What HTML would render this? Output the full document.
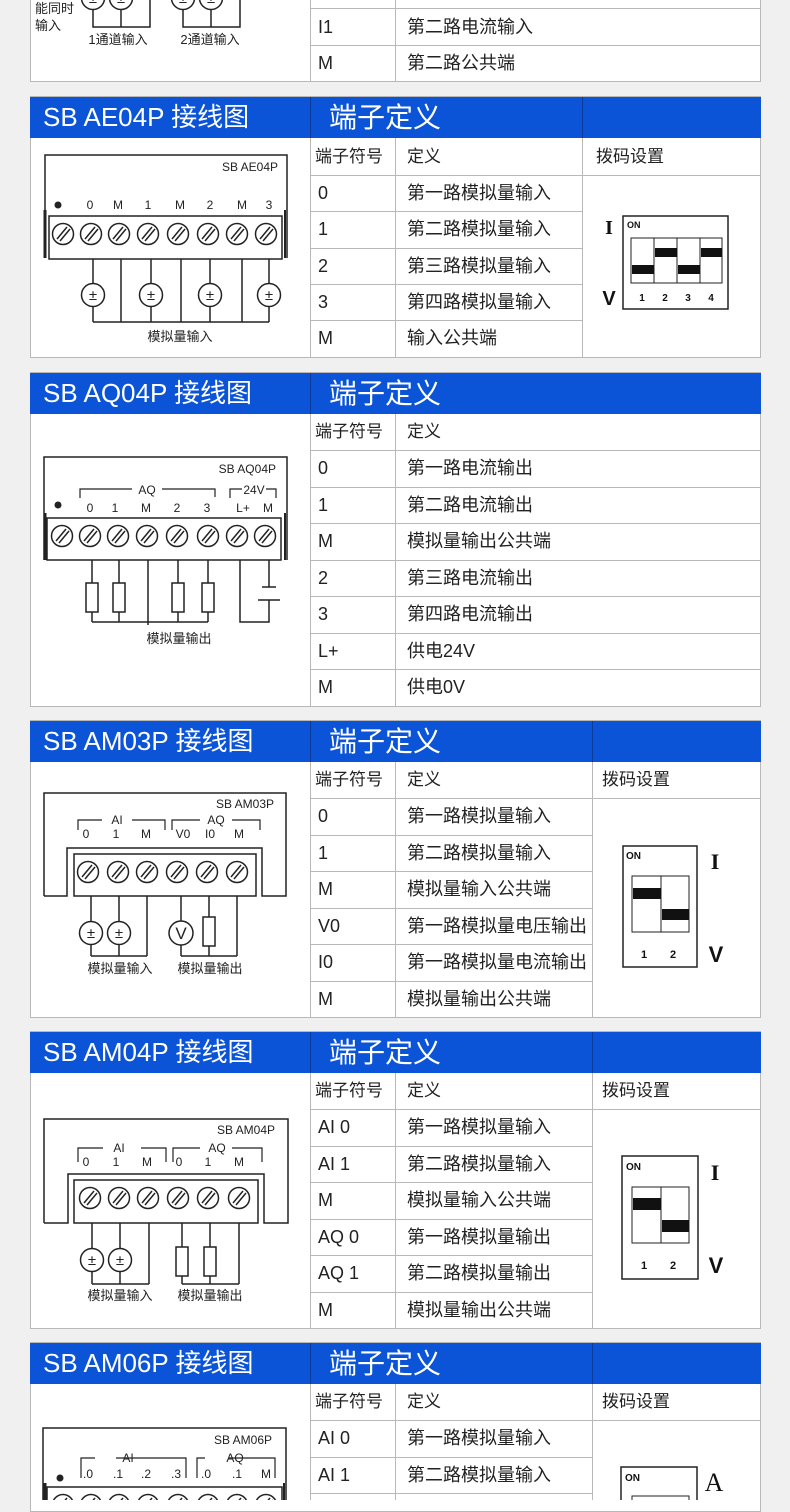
<!DOCTYPE html>
<html><head><meta charset="utf-8"><style>
*{margin:0;padding:0;box-sizing:border-box}
body{width:790px;height:1500px;background:#f0f0f0;position:relative;overflow:hidden;font-family:"Liberation Sans","Noto Sans CJK SC",sans-serif;color:#222}
.p{position:absolute;left:30px;width:731px;background:#fff;border:1px solid #b8b8b8}
.hb{position:absolute;left:30px;width:731px;height:41px;background:#0b54d8}
.ht{position:absolute;color:#fff;font-size:26px;line-height:41px;white-space:nowrap}
.hv{position:absolute;width:1px;height:41px;background:#0a3a9a}
.h{position:absolute;height:1px;background:#b8b8b8}
.v{position:absolute;width:1px;background:#b8b8b8}
.t{position:absolute;font-size:18px;white-space:nowrap;color:#222}
svg{position:absolute;left:0;top:0}
</style></head><body>

<!-- section 0 partial -->
<div class="p" style="top:-2px;height:84px"></div>
<div class="v" style="left:310px;top:0;height:82px"></div>
<div class="v" style="left:395px;top:0;height:82px"></div>
<div class="h" style="left:310px;top:8px;width:450px"></div>
<div class="h" style="left:310px;top:45px;width:450px"></div>
<div class="t" style="left:318px;top:9px;line-height:36px">I1</div>
<div class="t" style="left:407px;top:9px;line-height:36px">第二路电流输入</div>
<div class="t" style="left:318px;top:45px;line-height:37px">M</div>
<div class="t" style="left:407px;top:45px;line-height:37px">第二路公共端</div>

<!-- AE04P -->
<div class="p" style="top:96px;height:262px"></div>
<div class="hb" style="top:97px"></div>
<div class="ht" style="left:43px;top:97px">SB AE04P 接线图</div>
<div class="ht" style="left:329px;top:97px;font-size:28px">端子定义</div>
<div class="hv" style="left:310px;top:97px"></div><div class="hv" style="left:582px;top:97px"></div>
<div class="v" style="left:310px;top:138px;height:219px"></div>
<div class="v" style="left:395px;top:138px;height:219px"></div>
<div class="v" style="left:582px;top:138px;height:219px"></div>
<div class="h" style="left:310px;top:175px;width:450px"></div>
<div class="h" style="left:310px;top:211px;width:272px"></div>
<div class="h" style="left:310px;top:248px;width:272px"></div>
<div class="h" style="left:310px;top:284px;width:272px"></div>
<div class="h" style="left:310px;top:320px;width:272px"></div>
<div class="t" style="left:315px;top:138px;line-height:37px;font-size:17px">端子符号</div>
<div class="t" style="left:407px;top:138px;line-height:37px;font-size:17px">定义</div>
<div class="t" style="left:596px;top:138px;line-height:37px;font-size:17px">拨码设置</div>
<div class="t" style="left:318px;top:175px;line-height:36px">0</div><div class="t" style="left:407px;top:175px;line-height:36px">第一路模拟量输入</div>
<div class="t" style="left:318px;top:211px;line-height:37px">1</div><div class="t" style="left:407px;top:211px;line-height:37px">第二路模拟量输入</div>
<div class="t" style="left:318px;top:248px;line-height:36px">2</div><div class="t" style="left:407px;top:248px;line-height:36px">第三路模拟量输入</div>
<div class="t" style="left:318px;top:284px;line-height:36px">3</div><div class="t" style="left:407px;top:284px;line-height:36px">第四路模拟量输入</div>
<div class="t" style="left:318px;top:320px;line-height:37px">M</div><div class="t" style="left:407px;top:320px;line-height:37px">输入公共端</div>

<!-- AQ04P -->
<div class="p" style="top:372px;height:335px"></div>
<div class="hb" style="top:373px"></div>
<div class="ht" style="left:43px;top:373px">SB AQ04P 接线图</div>
<div class="ht" style="left:329px;top:373px;font-size:28px">端子定义</div>
<div class="hv" style="left:310px;top:373px"></div>
<div class="v" style="left:310px;top:414px;height:292px"></div>
<div class="v" style="left:395px;top:414px;height:292px"></div>
<div class="h" style="left:310px;top:450px;width:450px"></div>
<div class="h" style="left:310px;top:487px;width:450px"></div>
<div class="h" style="left:310px;top:523px;width:450px"></div>
<div class="h" style="left:310px;top:560px;width:450px"></div>
<div class="h" style="left:310px;top:596px;width:450px"></div>
<div class="h" style="left:310px;top:633px;width:450px"></div>
<div class="h" style="left:310px;top:669px;width:450px"></div>
<div class="t" style="left:315px;top:414px;line-height:36px;font-size:17px">端子符号</div>
<div class="t" style="left:407px;top:414px;line-height:36px;font-size:17px">定义</div>
<div class="t" style="left:318px;top:450px;line-height:37px">0</div><div class="t" style="left:407px;top:450px;line-height:37px">第一路电流输出</div>
<div class="t" style="left:318px;top:487px;line-height:36px">1</div><div class="t" style="left:407px;top:487px;line-height:36px">第二路电流输出</div>
<div class="t" style="left:318px;top:523px;line-height:37px">M</div><div class="t" style="left:407px;top:523px;line-height:37px">模拟量输出公共端</div>
<div class="t" style="left:318px;top:560px;line-height:36px">2</div><div class="t" style="left:407px;top:560px;line-height:36px">第三路电流输出</div>
<div class="t" style="left:318px;top:596px;line-height:37px">3</div><div class="t" style="left:407px;top:596px;line-height:37px">第四路电流输出</div>
<div class="t" style="left:318px;top:633px;line-height:36px">L+</div><div class="t" style="left:407px;top:633px;line-height:36px">供电24V</div>
<div class="t" style="left:318px;top:669px;line-height:37px">M</div><div class="t" style="left:407px;top:669px;line-height:37px">供电0V</div>

<!-- AM03P -->
<div class="p" style="top:720px;height:298px"></div>
<div class="hb" style="top:721px"></div>
<div class="ht" style="left:43px;top:721px">SB AM03P 接线图</div>
<div class="ht" style="left:329px;top:721px;font-size:28px">端子定义</div>
<div class="hv" style="left:310px;top:721px"></div><div class="hv" style="left:592px;top:721px"></div>
<div class="v" style="left:310px;top:762px;height:255px"></div>
<div class="v" style="left:395px;top:762px;height:255px"></div>
<div class="v" style="left:592px;top:762px;height:255px"></div>
<div class="h" style="left:310px;top:798px;width:450px"></div>
<div class="h" style="left:310px;top:835px;width:282px"></div>
<div class="h" style="left:310px;top:871px;width:282px"></div>
<div class="h" style="left:310px;top:908px;width:282px"></div>
<div class="h" style="left:310px;top:944px;width:282px"></div>
<div class="h" style="left:310px;top:981px;width:282px"></div>
<div class="t" style="left:315px;top:762px;line-height:36px;font-size:17px">端子符号</div>
<div class="t" style="left:407px;top:762px;line-height:36px;font-size:17px">定义</div>
<div class="t" style="left:602px;top:762px;line-height:36px;font-size:17px">拨码设置</div>
<div class="t" style="left:318px;top:798px;line-height:37px">0</div><div class="t" style="left:407px;top:798px;line-height:37px">第一路模拟量输入</div>
<div class="t" style="left:318px;top:835px;line-height:36px">1</div><div class="t" style="left:407px;top:835px;line-height:36px">第二路模拟量输入</div>
<div class="t" style="left:318px;top:871px;line-height:37px">M</div><div class="t" style="left:407px;top:871px;line-height:37px">模拟量输入公共端</div>
<div class="t" style="left:318px;top:908px;line-height:36px">V0</div><div class="t" style="left:407px;top:908px;line-height:36px">第一路模拟量电压输出</div>
<div class="t" style="left:318px;top:944px;line-height:37px">I0</div><div class="t" style="left:407px;top:944px;line-height:37px">第一路模拟量电流输出</div>
<div class="t" style="left:318px;top:981px;line-height:36px">M</div><div class="t" style="left:407px;top:981px;line-height:36px">模拟量输出公共端</div>

<!-- AM04P -->
<div class="p" style="top:1031px;height:298px"></div>
<div class="hb" style="top:1032px"></div>
<div class="ht" style="left:43px;top:1032px">SB AM04P 接线图</div>
<div class="ht" style="left:329px;top:1032px;font-size:28px">端子定义</div>
<div class="hv" style="left:310px;top:1032px"></div><div class="hv" style="left:592px;top:1032px"></div>
<div class="v" style="left:310px;top:1073px;height:255px"></div>
<div class="v" style="left:395px;top:1073px;height:255px"></div>
<div class="v" style="left:592px;top:1073px;height:255px"></div>
<div class="h" style="left:310px;top:1109px;width:450px"></div>
<div class="h" style="left:310px;top:1146px;width:282px"></div>
<div class="h" style="left:310px;top:1182px;width:282px"></div>
<div class="h" style="left:310px;top:1219px;width:282px"></div>
<div class="h" style="left:310px;top:1255px;width:282px"></div>
<div class="h" style="left:310px;top:1292px;width:282px"></div>
<div class="t" style="left:315px;top:1073px;line-height:36px;font-size:17px">端子符号</div>
<div class="t" style="left:407px;top:1073px;line-height:36px;font-size:17px">定义</div>
<div class="t" style="left:602px;top:1073px;line-height:36px;font-size:17px">拨码设置</div>
<div class="t" style="left:318px;top:1109px;line-height:37px">AI 0</div><div class="t" style="left:407px;top:1109px;line-height:37px">第一路模拟量输入</div>
<div class="t" style="left:318px;top:1146px;line-height:36px">AI 1</div><div class="t" style="left:407px;top:1146px;line-height:36px">第二路模拟量输入</div>
<div class="t" style="left:318px;top:1182px;line-height:37px">M</div><div class="t" style="left:407px;top:1182px;line-height:37px">模拟量输入公共端</div>
<div class="t" style="left:318px;top:1219px;line-height:36px">AQ 0</div><div class="t" style="left:407px;top:1219px;line-height:36px">第一路模拟量输出</div>
<div class="t" style="left:318px;top:1255px;line-height:37px">AQ 1</div><div class="t" style="left:407px;top:1255px;line-height:37px">第二路模拟量输出</div>
<div class="t" style="left:318px;top:1292px;line-height:36px">M</div><div class="t" style="left:407px;top:1292px;line-height:36px">模拟量输出公共端</div>

<!-- AM06P -->
<div class="p" style="top:1342px;height:170px"></div>
<div class="hb" style="top:1343px"></div>
<div class="ht" style="left:43px;top:1343px">SB AM06P 接线图</div>
<div class="ht" style="left:329px;top:1343px;font-size:28px">端子定义</div>
<div class="hv" style="left:310px;top:1343px"></div><div class="hv" style="left:592px;top:1343px"></div>
<div class="v" style="left:310px;top:1384px;height:116px"></div>
<div class="v" style="left:395px;top:1384px;height:116px"></div>
<div class="v" style="left:592px;top:1384px;height:116px"></div>
<div class="h" style="left:310px;top:1420px;width:450px"></div>
<div class="h" style="left:310px;top:1457px;width:282px"></div>
<div class="h" style="left:310px;top:1493px;width:282px"></div>
<div class="t" style="left:315px;top:1384px;line-height:36px;font-size:17px">端子符号</div>
<div class="t" style="left:407px;top:1384px;line-height:36px;font-size:17px">定义</div>
<div class="t" style="left:602px;top:1384px;line-height:36px;font-size:17px">拨码设置</div>
<div class="t" style="left:318px;top:1420px;line-height:37px">AI 0</div><div class="t" style="left:407px;top:1420px;line-height:37px">第一路模拟量输入</div>
<div class="t" style="left:318px;top:1457px;line-height:36px">AI 1</div><div class="t" style="left:407px;top:1457px;line-height:36px">第二路模拟量输入</div>

<svg width="790" height="1500" viewBox="0 0 790 1500" xmlns="http://www.w3.org/2000/svg" font-family="Liberation Sans, Noto Sans CJK SC, sans-serif" fill="none" stroke="#222" stroke-width="1.5">
<defs>
<g id="s"><circle r="10.5" fill="#fff"/><line x1="-6" y1="5" x2="4" y2="-7"/><line x1="-3" y1="7" x2="7" y2="-5"/></g>
<g id="pm"><circle r="11.5" fill="#fff"/><text x="0" y="5" font-size="15" text-anchor="middle" fill="#222" stroke="none">±</text></g>
<g id="r"><rect x="-6" y="0" width="12" height="29" fill="#fff"/></g>
</defs>
<g fill="#222" stroke="none" font-size="13">
<text x="35" y="13">能同时</text><text x="35" y="30">输入</text>
<text x="118" y="44" text-anchor="middle">1通道输入</text><text x="210" y="44" text-anchor="middle">2通道输入</text>
</g>
<polyline points="93,8 93,27 150,27 150,0"/><line x1="121" y1="8" x2="121" y2="27"/>
<polyline points="183,8 183,27 240,27 240,0"/><line x1="211" y1="8" x2="211" y2="27"/>
<use href="#pm" x="93" y="-2"/><use href="#pm" x="121" y="-2"/><use href="#pm" x="183" y="-2"/><use href="#pm" x="211" y="-2"/>

<!-- AE04P diagram -->
<polyline points="45,258 45,155 287,155 287,258"/>
<line x1="45" y1="210" x2="45" y2="258" stroke-width="3"/><line x1="285" y1="210" x2="285" y2="258" stroke-width="2"/>
<rect x="49" y="216" width="233" height="43" fill="#fff"/>
<g fill="#222" stroke="none" font-size="12">
<text x="278" y="171" text-anchor="end">SB AE04P</text>
<circle cx="58" cy="205" r="3.5"/>
<text x="90" y="209" text-anchor="middle">0</text><text x="118" y="209" text-anchor="middle">M</text><text x="148" y="209" text-anchor="middle">1</text><text x="180" y="209" text-anchor="middle">M</text><text x="210" y="209" text-anchor="middle">2</text><text x="242" y="209" text-anchor="middle">M</text><text x="269" y="209" text-anchor="middle">3</text>
<text x="180" y="341" text-anchor="middle" font-size="13">模拟量输入</text>
</g>
<use href="#s" x="63" y="234"/><use href="#s" x="91" y="234"/><use href="#s" x="119" y="234"/><use href="#s" x="148" y="234"/><use href="#s" x="178" y="234"/><use href="#s" x="208" y="234"/><use href="#s" x="237" y="234"/><use href="#s" x="266" y="234"/>
<path d="M93,259V322M121,259V322M151,259V322M181,259V322M210,259V322M242,259V322M269,259V322M93,322H269"/>
<use href="#pm" x="93" y="295"/><use href="#pm" x="151" y="295"/><use href="#pm" x="210" y="295"/><use href="#pm" x="269" y="295"/>

<!-- AE04P dip -->
<rect x="623" y="216" width="105" height="93"/>
<rect x="631" y="238" width="91" height="45" stroke-width="1"/>
<path d="M654,238V283M677,238V283M700,238V283" stroke-width="1"/>
<g fill="#111" stroke="none"><rect x="632" y="265" width="22" height="9"/><rect x="655" y="248" width="22" height="9"/><rect x="678" y="265" width="22" height="9"/><rect x="701" y="248" width="21" height="9"/>
<text x="627" y="228" font-size="9" font-weight="bold">ON</text>
<text x="642" y="301" font-size="10" font-weight="bold" text-anchor="middle">1</text><text x="665" y="301" font-size="10" font-weight="bold" text-anchor="middle">2</text><text x="688" y="301" font-size="10" font-weight="bold" text-anchor="middle">3</text><text x="711" y="301" font-size="10" font-weight="bold" text-anchor="middle">4</text>
<text x="609" y="234" font-size="20" font-weight="bold" text-anchor="middle" font-family="Liberation Serif,serif">I</text>
<text x="609" y="305" font-size="20" font-weight="bold" text-anchor="middle">V</text></g>

<!-- AQ04P diagram -->
<polyline points="44,560 44,457 287,457 287,560"/>
<line x1="45" y1="513" x2="45" y2="560" stroke-width="3"/><line x1="285" y1="513" x2="285" y2="560" stroke-width="2"/>
<rect x="47" y="518" width="234" height="42" fill="#fff"/>
<path d="M80,498V489H132M162,489H215V497M230,498V489H242M266,489H276V498" stroke-width="1.2"/>
<g fill="#222" stroke="none" font-size="12">
<text x="276" y="473" text-anchor="end">SB AQ04P</text>
<text x="147" y="494" text-anchor="middle">AQ</text><text x="254" y="494" text-anchor="middle">24V</text>
<circle cx="58" cy="505" r="3.5"/>
<text x="90" y="512" text-anchor="middle">0</text><text x="115" y="512" text-anchor="middle">1</text><text x="146" y="512" text-anchor="middle">M</text><text x="177" y="512" text-anchor="middle">2</text><text x="207" y="512" text-anchor="middle">3</text><text x="243" y="512" text-anchor="middle">L+</text><text x="268" y="512" text-anchor="middle">M</text>
<text x="179" y="643" text-anchor="middle" font-size="13">模拟量输出</text>
</g>
<use href="#s" x="62" y="536"/><use href="#s" x="90" y="536"/><use href="#s" x="118" y="536"/><use href="#s" x="147" y="536"/><use href="#s" x="177" y="536"/><use href="#s" x="208" y="536"/><use href="#s" x="237" y="536"/><use href="#s" x="265" y="536"/>
<path d="M92,560V622M119,560V622M148,560V625M178,560V622M208,560V622M92,622H208M240,560V622H269V600M269,560V587M262,587H276M258,600H280"/>
<use href="#r" x="92" y="583"/><use href="#r" x="119" y="583"/><use href="#r" x="178" y="583"/><use href="#r" x="208" y="583"/>

<!-- AM03P diagram -->
<polyline points="44,896 44,793 286,793 286,896 262,896 262,848 67,848 67,896 44,896"/>
<rect x="74" y="854" width="182" height="42" fill="#fff"/>
<path d="M78,830V820H102M132,820H165V830M172,830V820H200M232,820H260V830" stroke-width="1.2"/>
<g fill="#222" stroke="none" font-size="12">
<text x="274" y="808" text-anchor="end">SB AM03P</text>
<text x="117" y="824" text-anchor="middle">AI</text><text x="216" y="824" text-anchor="middle">AQ</text>
<text x="86" y="838" text-anchor="middle">0</text><text x="116" y="838" text-anchor="middle">1</text><text x="146" y="838" text-anchor="middle">M</text><text x="183" y="838" text-anchor="middle">V0</text><text x="210" y="838" text-anchor="middle">I0</text><text x="239" y="838" text-anchor="middle">M</text>
<text x="120" y="973" text-anchor="middle" font-size="13">模拟量输入</text><text x="210" y="973" text-anchor="middle" font-size="13">模拟量输出</text>
</g>
<use href="#s" x="88" y="872"/><use href="#s" x="118" y="872"/><use href="#s" x="147" y="872"/><use href="#s" x="177" y="872"/><use href="#s" x="207" y="872"/><use href="#s" x="237" y="872"/>
<path d="M91,896V956M119,896V956M147,896V956M91,956H147M181,896V956M209,896V956M237,896V956M181,956H237"/>
<use href="#pm" x="91" y="933"/><use href="#pm" x="119" y="933"/>
<circle cx="181" cy="933" r="12" fill="#fff"/><text x="181" y="939" font-size="17" text-anchor="middle" fill="#222" stroke="none">V</text>
<use href="#r" x="209" y="917"/>

<!-- AM03P dip -->
<rect x="623" y="846" width="74" height="121"/>
<rect x="632" y="876" width="57" height="56" stroke-width="1"/><line x1="661" y1="876" x2="661" y2="932" stroke-width="1"/>
<g fill="#111" stroke="none"><rect x="633" y="888" width="28" height="11"/><rect x="662" y="909" width="27" height="11"/>
<text x="626" y="859" font-size="10" font-weight="bold">ON</text>
<text x="644" y="958" font-size="11" font-weight="bold" text-anchor="middle">1</text><text x="673" y="958" font-size="11" font-weight="bold" text-anchor="middle">2</text>
<text x="715" y="869" font-size="22" font-weight="bold" text-anchor="middle" font-family="Liberation Serif,serif">I</text>
<text x="716" y="962" font-size="22" font-weight="bold" text-anchor="middle">V</text></g>

<!-- AM04P diagram -->
<polyline points="44,1223 44,1119 288,1119 288,1223 264,1223 264,1174 68,1174 68,1223 44,1223"/>
<rect x="74" y="1180" width="184" height="43" fill="#fff"/>
<path d="M78,1162V1148H103M141,1148H166V1162M173,1162V1148H200M232,1148H262V1162" stroke-width="1.2"/>
<g fill="#222" stroke="none" font-size="12">
<text x="275" y="1134" text-anchor="end">SB AM04P</text>
<text x="119" y="1152" text-anchor="middle">AI</text><text x="217" y="1152" text-anchor="middle">AQ</text>
<text x="86" y="1166" text-anchor="middle">0</text><text x="116" y="1166" text-anchor="middle">1</text><text x="147" y="1166" text-anchor="middle">M</text><text x="179" y="1166" text-anchor="middle">0</text><text x="208" y="1166" text-anchor="middle">1</text><text x="239" y="1166" text-anchor="middle">M</text>
<text x="120" y="1300" text-anchor="middle" font-size="13">模拟量输入</text><text x="210" y="1300" text-anchor="middle" font-size="13">模拟量输出</text>
</g>
<use href="#s" x="90" y="1198"/><use href="#s" x="119" y="1198"/><use href="#s" x="148" y="1198"/><use href="#s" x="178" y="1198"/><use href="#s" x="208" y="1198"/><use href="#s" x="239" y="1198"/>
<path d="M92,1223V1284M120,1223V1284M149,1223V1284M92,1284H149M182,1223V1284M210,1223V1284M239,1223V1284M182,1284H239"/>
<use href="#pm" x="92" y="1260"/><use href="#pm" x="120" y="1260"/>
<use href="#r" x="182" y="1247"/><use href="#r" x="210" y="1247"/>

<!-- AM04P dip -->
<rect x="622" y="1156" width="76" height="123"/>
<rect x="632" y="1187" width="57" height="56" stroke-width="1"/><line x1="661" y1="1187" x2="661" y2="1243" stroke-width="1"/>
<g fill="#111" stroke="none"><rect x="633" y="1198" width="28" height="12"/><rect x="662" y="1220" width="27" height="12"/>
<text x="626" y="1170" font-size="10" font-weight="bold">ON</text>
<text x="644" y="1269" font-size="11" font-weight="bold" text-anchor="middle">1</text><text x="673" y="1269" font-size="11" font-weight="bold" text-anchor="middle">2</text>
<text x="715" y="1180" font-size="22" font-weight="bold" text-anchor="middle" font-family="Liberation Serif,serif">I</text>
<text x="716" y="1273" font-size="22" font-weight="bold" text-anchor="middle">V</text></g>

<!-- AM06P partial -->
<polyline points="43,1500 43,1428 286,1428 286,1500"/>
<line x1="45" y1="1483" x2="45" y2="1500" stroke-width="3"/><line x1="284" y1="1483" x2="284" y2="1500" stroke-width="2"/>
<rect x="47" y="1487" width="235" height="20" fill="#fff"/>
<path d="M81,1478V1458H95M116,1458H186V1478M197,1478V1458H205M229,1458H275V1478" stroke-width="1.2"/>
<g fill="#222" stroke="none" font-size="12">
<text x="272" y="1444" text-anchor="end">SB AM06P</text>
<text x="128" y="1462" text-anchor="middle">AI</text><text x="235" y="1462" text-anchor="middle">AQ</text>
<circle cx="60" cy="1478" r="3.5"/>
<text x="88" y="1478" text-anchor="middle">.0</text><text x="118" y="1478" text-anchor="middle">.1</text><text x="146" y="1478" text-anchor="middle">.2</text><text x="176" y="1478" text-anchor="middle">.3</text><text x="206" y="1478" text-anchor="middle">.0</text><text x="237" y="1478" text-anchor="middle">.1</text><text x="266" y="1478" text-anchor="middle">M</text>
</g>
<use href="#s" x="63" y="1505"/><use href="#s" x="91" y="1505"/><use href="#s" x="119" y="1505"/><use href="#s" x="148" y="1505"/><use href="#s" x="178" y="1505"/><use href="#s" x="208" y="1505"/><use href="#s" x="237" y="1505"/><use href="#s" x="266" y="1505"/>
<rect x="621" y="1467" width="76" height="50"/>
<rect x="632" y="1496" width="57" height="30" stroke-width="1"/>
<g fill="#111" stroke="none"><text x="625" y="1481" font-size="10" font-weight="bold">ON</text>
<text x="714" y="1491" font-size="26" text-anchor="middle" font-family="Liberation Serif,serif">A</text></g>
</svg>
</body></html>
